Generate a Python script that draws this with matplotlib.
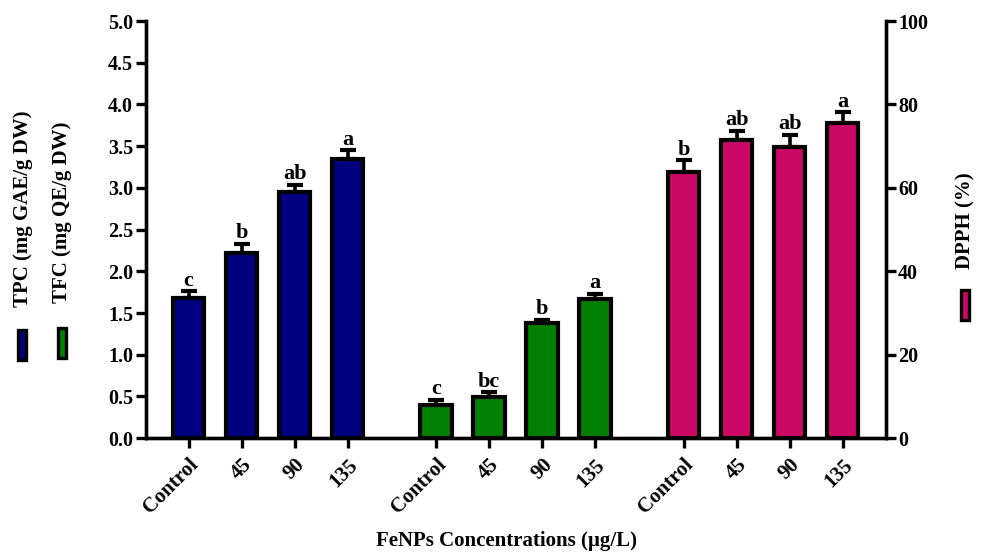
import matplotlib
matplotlib.use("Agg")
import matplotlib.pyplot as plt
from matplotlib.patches import Rectangle
import numpy as np

plt.rcParams['font.family'] = ['Liberation Serif', 'DejaVu Serif']
plt.rcParams['font.weight'] = 'bold'

categories = ["Control", "45", "90", "135"]
tpc = [1.68, 2.22, 2.95, 3.35]
tpc_err = [0.08, 0.11, 0.09, 0.10]
tpc_letters = ["c", "b", "ab", "a"]
tfc = [0.40, 0.49, 1.38, 1.67]
tfc_err = [0.06, 0.06, 0.04, 0.06]
tfc_letters = ["c", "bc", "b", "a"]
dpph = [63.9, 71.4, 69.9, 75.6]
dpph_err = [2.8, 2.3, 2.9, 2.5]
dpph_letters = ["b", "ab", "ab", "a"]

colors = {"tpc": "#000080", "tfc": "#008000", "dpph": "#CC0866"}

fig = plt.figure(figsize=(9.84, 5.54), dpi=100)
ax = fig.add_axes([0.148, 0.209, 0.752, 0.753])
ax2 = ax.twinx()

gap = 4.67
pos_tpc = np.arange(4)
pos_tfc = np.arange(4) + gap
pos_dpph = np.arange(4) + 2 * gap
width = 0.59
lw = 3.0

def draw(a, pos, vals, errs, letters, color, off):
    a.bar(pos, vals, width=width, color=color, edgecolor='black', linewidth=lw, zorder=3)
    a.errorbar(pos, vals, yerr=[np.zeros(len(vals)), errs], fmt='none', ecolor='black',
               elinewidth=2.6, capsize=6, capthick=3.0, zorder=2)
    for p, v, e, l in zip(pos, vals, errs, letters):
        a.text(p, v + e + off, l, ha='center', va='bottom', fontsize=16, fontweight='bold')

draw(ax, pos_tpc, tpc, tpc_err, tpc_letters, colors["tpc"], 0.005)
draw(ax, pos_tfc, tfc, tfc_err, tfc_letters, colors["tfc"], 0.005)
draw(ax2, pos_dpph, dpph, dpph_err, dpph_letters, colors["dpph"], 0.1)

ax.set_xlim(-0.81, 13.15)
ax.set_ylim(0, 5.0)
ax2.set_ylim(0, 100)
ax.set_yticks(np.arange(0, 5.01, 0.5))
ax.set_yticklabels([f"{v:.1f}" for v in np.arange(0, 5.01, 0.5)])
ax2.set_yticks(np.arange(0, 101, 20))

allpos = np.concatenate([pos_tpc, pos_tfc, pos_dpph])
ax.set_xticks(allpos)
ax.set_xticklabels(categories * 3, rotation=45, ha='right', rotation_mode='anchor',
                   fontsize=15, fontweight='bold')

for a in (ax, ax2):
    a.spines['top'].set_visible(False)
    for s in ['left', 'right', 'bottom']:
        a.spines[s].set_linewidth(2.4)
    a.tick_params(axis='both', width=2.4, length=7, labelsize=14.5, pad=2)
    for t in a.get_yticklabels():
        t.set_fontweight('bold')
ax.tick_params(axis='x', pad=5, labelsize=15)

fig.text(0.515, 0.023, "FeNPs Concentrations (µg/L)", ha='center', va='center',
         fontsize=15, fontweight='bold')

# Legend texts and patches
fig.text(0.023, 0.623, "TPC (mg GAE/g DW)", rotation=90, ha='center', va='center', fontsize=15, fontweight='bold')
fig.text(0.063, 0.617, "TFC (mg QE/g DW)", rotation=90, ha='center', va='center', fontsize=15, fontweight='bold')
fig.text(0.981, 0.601, "DPPH (%)", rotation=90, ha='center', va='center', fontsize=15, fontweight='bold')

def legpatch(xc, yc, color):
    w, h = 8 / 984, 30 / 554
    fig.patches.append(Rectangle((xc - w / 2, yc - h / 2), w, h, transform=fig.transFigure,
                                 facecolor=color, edgecolor='black', linewidth=2.4))

legpatch(0.022, 0.377, colors["tpc"])
legpatch(0.063, 0.380, colors["tfc"])
legpatch(0.981, 0.449, colors["dpph"])

fig.savefig("out.png", dpi=100)
